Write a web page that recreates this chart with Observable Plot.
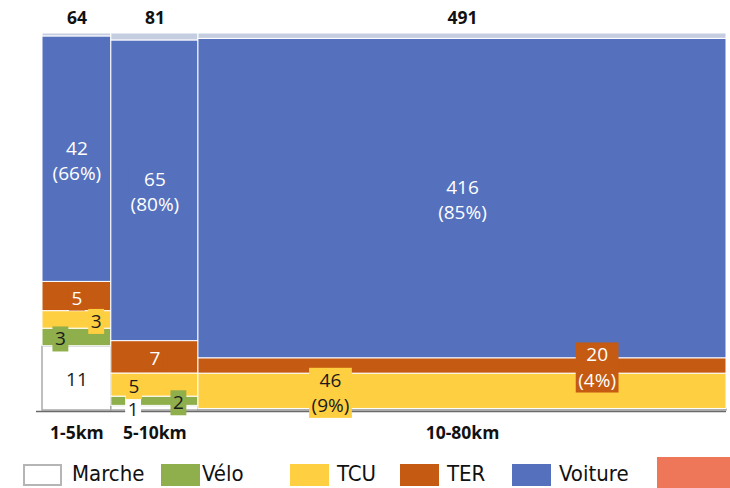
<!DOCTYPE html>
<html>
<head>
<meta charset="utf-8">
<script src="https://cdn.jsdelivr.net/npm/d3@7"></script>
<script src="https://cdn.jsdelivr.net/npm/@observablehq/plot@0.6"></script>
<style>
  html, body { margin: 0; padding: 0; background: #fff; }
  #chart svg { display: block; }
  #legend { position: relative; width: 730px; height: 33px; font-family: "DejaVu Sans Condensed", "DejaVu Sans", sans-serif; font-stretch: condensed; font-size: 22px; color: #111; overflow: hidden; }
  #legend .sw { position: absolute; top: 9px; width: 39px; height: 22px; box-sizing: border-box; }
  #legend .lb { position: absolute; top: 6px; line-height: 26px; white-space: nowrap; }
</style>
</head>
<body>
<div id="chart"></div>
<div id="legend"></div>
<script>
// ---- data ----
const columns = ["1-5km", "5-10km", "10-80km"];
const totals = [64, 81, 491];
const modes = ["Marche", "Vélo", "TCU", "TER", "Voiture", "Autre"];
const marche = [11, 1, 2];
const velo = [3, 2, 0];
const tcu = [3, 5, 46];
const ter = [5, 7, 20];
const voiture = [42, 65, 416];
const autre = [0.5, 1.5, 7];
const legendModes = ["Marche", "Vélo", "TCU", "TER", "Voiture", ""];

// ---- styling ----
const colors = {
  "Marche": "#ffffff", "Vélo": "#8fae4c", "TCU": "#fecf40",
  "TER": "#c55a12", "Voiture": "#5571bd", "Autre": "#c5cde1", "": "#ef7759"
};
const textColors = { "Marche": "#1a1a1a", "Vélo": "#1a1a1a", "TCU": "#1a1a1a", "TER": "#ffffff", "Voiture": "#ffffff" };
const labelAnchor = {
  "1-5km": { "TCU": 0.78, "Vélo": 0.26 },
  "5-10km": { "TCU": 0.26, "Vélo": 0.77, "Marche": 0.25 },
  "10-80km": { "TCU": 0.25, "TER": 0.755 }
};
const legendLeft = [23, 161, 290, 400, 512, 657];

// ---- build table ----
const series = [marche, velo, tcu, ter, voiture, autre];
const cum = d3.cumsum([0, ...totals]);
const rows = [];
columns.forEach((c, i) => {
  const sum = d3.sum(series, s => s[i]);
  let acc = 0;
  series.forEach((s, k) => {
    const v = s[i];
    rows.push({ col: c, mode: modes[k], value: v, total: totals[i],
      x1: cum[i], x2: cum[i] + totals[i], y1: acc / sum, y2: (acc + v) / sum });
    acc += v;
  });
});
const cols = columns.map((c, i) => ({ col: c, total: totals[i], xm: cum[i] + totals[i] / 2 }));

const labels = rows
  .filter(d => d.mode !== "Autre" && d.value / d.total >= 0.01)
  .map(d => {
    const f = (labelAnchor[d.col] && labelAnchor[d.col][d.mode] !== undefined) ? labelAnchor[d.col][d.mode] : 0.5;
    const pct = Math.round(100 * d.value / d.total);
    return { ...d, lx: d.x1 + f * (d.x2 - d.x1), ly: (d.y1 + d.y2) / 2,
      text: d.value >= 15 ? `${d.value}\n(${pct}%)` : `${d.value}` };
  });

const W = 730, H = 455;
const chart = Plot.plot({
  width: W, height: H,
  marginTop: 33, marginBottom: 45, marginLeft: 36, marginRight: 4,
  x: { domain: [0, d3.sum(totals)], range: [42, 726], axis: null },
  y: { domain: [0, 1], axis: null },
  style: { fontFamily: "'Open Sans', sans-serif", background: "#fff" },
  marks: [
    Plot.rect(rows.filter(d => d.mode === "Marche"), {
      x1: "x1", x2: "x2", y1: "y1", y2: "y2", fill: "#fff", stroke: "#aaaaaa", strokeWidth: 1.5
    }),
    Plot.rect(rows.filter(d => d.mode !== "Marche"), {
      x1: "x1", x2: "x2", y1: "y1", y2: "y2", fill: d => colors[d.mode], stroke: "#ffffff", strokeWidth: 1
    }),
    Plot.ruleY([0], { stroke: "#6a6a6a", strokeWidth: 1.6, dy: 1 }),
    Plot.text(cols, { x: "xm", y: () => 1, dy: -15, text: d => String(d.total), fontWeight: "bold", fontSize: 17.5, fill: "#111" }),
    Plot.text(cols, { x: "xm", y: () => 0, dy: 23, text: "col", fontWeight: "bold", fontSize: 17.5, fill: "#111" }),
    Plot.text(labels, { x: "lx", y: "ly", text: "text", fill: d => textColors[d.mode], fontSize: 19, lineHeight: 1.32, className: "seglabel" })
  ]
});
document.getElementById("chart").appendChild(chart);

// background boxes behind segment labels, in the segment colour
const textEls = chart.querySelectorAll("g.seglabel text");
textEls.forEach((t, i) => {
  const d = labels[i];
  if (!d) return;
  const b = t.getBBox();
  const r = document.createElementNS("http://www.w3.org/2000/svg", "rect");
  r.setAttribute("x", b.x - 2.5);
  r.setAttribute("y", b.y + 1);
  r.setAttribute("width", b.width + 5);
  r.setAttribute("height", b.height - 1);
  r.setAttribute("fill", colors[d.mode]);
  if (t.getAttribute("transform")) r.setAttribute("transform", t.getAttribute("transform"));
  t.parentNode.insertBefore(r, t);
});

// legend
const lg = document.getElementById("legend");
legendModes.forEach((m, i) => {
  const sw = document.createElement("div");
  sw.className = "sw";
  sw.style.left = legendLeft[i] + "px";
  sw.style.background = colors[m];
  if (m === "Marche") sw.style.border = "2.5px solid #b5b5b5";
  if (m === "") { sw.style.top = "2px"; sw.style.height = "31px"; sw.style.width = "80px"; }
  lg.appendChild(sw);
  if (m) {
    const lb = document.createElement("div");
    lb.className = "lb";
    lb.style.left = (legendLeft[i] + (m === "TCU" || m === "TER" || m === "Voiture" ? 47 : (m === "Vélo" ? 41 : 49))) + "px";
    lb.textContent = m;
    lg.appendChild(lb);
  }
});
</script>
</body>
</html>
